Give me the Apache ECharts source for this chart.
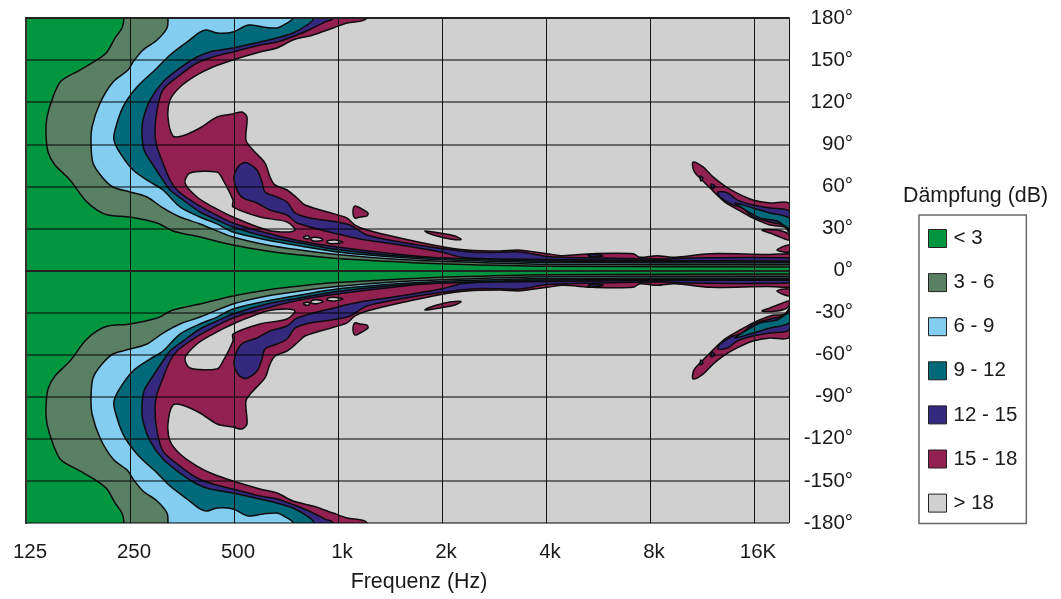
<!DOCTYPE html>
<html><head><meta charset="utf-8">
<style>html,body{margin:0;padding:0;background:#fff}#c{width:1061px;height:599px}</style>
<script src="https://cdn.jsdelivr.net/npm/echarts@6/dist/echarts.min.js"></script>
</head><body><div id="c"></div>
<script>
// x = octaves above 125 Hz, y = angle in degrees (upper half, mirrored for the lower half)
const octaveMax = 7.3365;
const freqLabels = ['125','250','500','1k','2k','4k','8k','16K'];
const bandNames = ['< 3','3 - 6','6 - 9','9 - 12','12 - 15','15 - 18','> 18'];
const bandColors = ['#009640','#5a8063','#83cef0','#006a7a','#35287f','#922050','#d0d0d0'];

const level3 = [[.942,180],[.923,172.9],[.856,165.7],[.779,155.8],[.683,150.1],[.519,142.9],[.337,135.1],[.26,123.7],[.202,109.4],[.192,98],[.212,84.5],[.279,75.2],[.423,64.5],[.567,50.3],[.683,43.1],[.788,39.6],[1,38.1],[1.26,33.9],[1.413,28.2],[1.673,23.9],[1.99,18.2],[2.317,13.9],[2.635,11],[2.99,8.6],[3.596,6.1],[3.99,4.8],[4.99,3],[7.3365,2.5]];
const level6 = [[1.365,180],[1.356,172.9],[1.26,164.3],[1.125,157.2],[1.029,148.6],[.981,142.9],[.837,134.4],[.712,119.4],[.635,102.3],[.625,90.9],[.644,76.6],[.731,66.7],[.837,59.5],[1,56],[1.163,52.4],[1.317,44.6],[1.481,38.1],[1.673,33.2],[1.99,23.9],[2.317,18.2],[2.635,14.6],[2.99,11.4],[3.596,7.8],[3.99,6.6],[4.99,4.4],[7.3365,4.1]];
const level9 = [[2.567,180],[2.51,176.4],[2.413,172.9],[2.279,173.6],[2.135,175],[1.99,170],[1.837,169.3],[1.74,171.5],[1.673,170],[1.548,162.9],[1.385,153.6],[1.26,144.4],[1.067,130.8],[.933,116.6],[.856,100.2],[.846,93],[.904,83.8],[1.029,71.6],[1.192,63.1],[1.317,57.4],[1.481,45.3],[1.673,38.1],[1.837,33.2],[1.99,27.4],[2.317,21.7],[2.635,17.5],[2.99,13.2],[3.596,9.3],[3.99,7.8],[4.99,5.7],[7.3365,5.3]];
const level12 = [[2.769,180],[2.702,175],[2.567,169.3],[2.413,165.7],[2.25,162.9],[1.99,158.6],[1.769,155.8],[1.644,152.2],[1.481,144.4],[1.317,134.4],[1.192,121.5],[1.125,107.3],[1.115,98],[1.135,85.9],[1.221,75.2],[1.317,64.5],[1.385,57.4],[1.51,50.3],[1.673,41.7],[1.837,36],[1.99,31],[2.317,23.9],[2.635,19.6],[2.99,15],[3.596,10.3],[3.99,8.9],[4.99,6.8],[7.3365,6.1]];
const level15 = [[2.952,180],[2.875,177.2],[2.76,172.9],[2.606,167.9],[2.413,162.9],[2.25,160.8],[1.99,155.8],[1.798,152.2],[1.644,147.9],[1.481,139.4],[1.317,128.7],[1.26,114.4],[1.24,98],[1.26,88],[1.317,76.6],[1.385,64.5],[1.452,57.4],[1.577,50.3],[1.74,43.1],[1.99,33.9],[2.317,26.7],[2.635,21],[2.99,16.8],[3.596,11.4],[3.99,9],[4.99,7.8],[5.904,7.5],[7.3365,7.5]];
const level18 = [[3.279,180],[3.087,176.4],[2.952,172.9],[2.76,167.9],[2.567,164.3],[2.413,158.6],[2.25,155.8],[1.99,150.1],[1.798,145.1],[1.644,139.4],[1.481,130.8],[1.385,121.5],[1.365,109.4],[1.413,95.9],[1.5,95.9],[1.673,101.6],[1.837,109.4],[1.99,111.6],[2.077,113],[2.125,109.4],[2.115,93],[2.183,85.9],[2.298,76.6],[2.346,66.7],[2.394,61],[2.51,57.4],[2.606,51.7],[2.683,46.7],[3,39.6],[3.087,37.4],[3.163,32.4],[3.279,28.9],[3.596,23.2],[3.99,17.1],[4.24,14.6],[4.558,13.9],[4.75,14.5],[5.01,12],[5.163,10.6],[5.452,12],[5.837,12],[5.904,9.4],[6.067,10.6],[6.24,9.4],[6.577,12],[7.125,11.4],[7.3365,12]];

const islands15 = [
  [[2.135,76.6],[2.221,71.6],[2.269,63.1],[2.298,56],[2.413,52.4],[2.51,48.8],[2.587,41],[2.731,37.4],[2.99,34.6],[3.115,32.4],[3.279,25.3],[3.596,20.3],[3.99,15.7],[4.365,12.8],[4.75,13.2],[5.01,10],[5.519,8.9],[6.096,8.2],[6.385,8.9],[7.3365,8.9],[7.3365,6.8],[4.558,8.2],[4.202,9.3],[3.99,13.2],[3.596,18.2],[3.212,22.5],[3,26],[2.606,33.9],[2.51,39.6],[2.346,43.1],[2.221,48.1],[2.087,51.7],[2.029,57.4],[2,66.7],[2.038,73.8],[2.087,76.6]],
  [[6.654,56],[6.75,55.2],[6.837,50.3],[6.99,46.7],[7.154,44.6],[7.3365,42.4],[7.3365,28.9],[7.279,32.4],[7.154,34.6],[6.99,38.1],[6.885,44.6],[6.798,46.7],[6.673,52.4]],
  [[5.404,11.2],[5.519,11.2],[5.548,10.3],[5.423,10]],
  [[6.481,67.4],[6.51,66],[6.49,63.8]],
  [[6.587,61.7],[6.625,60.2],[6.596,58.1]]
];
const islands18 = [
  [[3.163,46],[3.212,44.6],[3.288,41],[3.279,38.9],[3.212,38.1],[3.163,37.4],[3.144,41.7]],
  [[3.837,28.2],[3.981,26.7],[4.125,24.6],[4.183,22.1],[4.077,22.5],[3.952,24.6],[3.865,26.7]],
  [[6.413,77.3],[6.51,73.8],[6.606,66.7],[6.721,60.2],[6.837,55.2],[6.99,50.3],[7.154,48.1],[7.3365,47.8],[7.3365,27.4],[7.298,31],[7.154,32.4],[6.99,37.4],[6.885,41.7],[6.721,48.8],[6.577,58.8],[6.5,64.5],[6.423,70.9]],
  [[7.077,28.9],[7.221,28.9],[7.298,27.4],[7.3365,25.3],[7.3365,21.7],[7.25,23.9],[7.154,26.7]],
  [[7.221,14.6],[7.3365,18.2],[7.3365,13.2]]
];
const islands12 = [
  [[6.817,48.1],[6.99,44.6],[7.154,41],[7.3365,37.4],[7.3365,30.3],[7.221,35.3],[7.058,37.4],[6.885,44.6]]
];
const holes18 = [
  [[1.577,69.5],[1.837,70.2],[1.885,65.9],[1.99,50.3],[1.99,45.3],[2.25,38.1],[2.51,34.6],[2.587,28.9],[2.51,27.4],[2.317,28.9],[1.99,38.1],[1.798,45.3],[1.644,52.4],[1.529,62.4]],
  [[2.673,24.2],[2.721,24.6],[2.721,22.8],[2.673,23.2]],
  [[2.74,23.2],[2.808,23.5],[2.856,22.1],[2.808,21],[2.75,21.4]],
  [[2.894,21],[2.971,21.7],[3.048,20.3],[2.971,19.2],[2.904,19.6]]
];

const flip = p => [p[0], -p[1]];
// each level closes round the left of the plot, just outside the clipped area
const band = upper => {
  const first = upper[0], last = upper[upper.length-1];
  const half = [[first[0],210]].concat(upper, [[last[0]+0.5,last[1]]]);
  return half.concat(half.slice().reverse().map(flip), [[-1,-210],[-1,210]]);
};
const both = list => list.concat(list.map(r => r.map(flip)));

function poly(name, colorIdx, z, rings) {
  return {
    type:'custom', name, z, silent:true, coordinateSystem:'cartesian2d',
    xAxisIndex:0, yAxisIndex:0, clip:true,
    itemStyle:{color:bandColors[colorIdx]},
    data: rings.map((r,i)=>[i,0]),
    renderItem(params, api){
      const ring = rings[api.value(0)];
      return {type:'polygon', shape:{points:ring.map(p=>api.coord(p)), smooth:0.3},
        style:{fill:bandColors[colorIdx], stroke:'#0c0c0c', lineWidth:1.5, lineJoin:'round'}};
    }
  };
}

const labelFont = {fontFamily:'"Liberation Sans", Arial, sans-serif', fontSize:20.5, color:'#1a1a1a'};
const chart = echarts.init(document.getElementById('c'), null, {renderer:'canvas'});
chart.setOption({
  animation:false,
  backgroundColor:'#fff',
  grid:{left:26, right:272, top:18, bottom:76, show:false},
  title:{text:'Dämpfung (dB)', left:903, top:186, padding:0,
    textStyle:{...labelFont, fontSize:21.4, fontWeight:'normal'}},
  legend:{
    left:919, top:215, orient:'vertical', icon:'rect', selectedMode:false,
    data:bandNames, itemWidth:18, itemHeight:18, itemGap:23.1,
    padding:[13,9,10,9], borderColor:'#6a6a6a', borderWidth:1.5,
    itemStyle:{borderColor:'#222', borderWidth:1},
    textStyle:{...labelFont, padding:[0,0,0,2]}
  },
  xAxis:[
    {type:'value', min:0, max:octaveMax, interval:1, position:'bottom', z:10,
     name:'Frequenz (Hz)', nameLocation:'middle', nameGap:49,
     nameTextStyle:{...labelFont, fontSize:21.4, padding:[0,0,0,23]},
     axisLine:{show:true, lineStyle:{color:'#222', width:2}}, axisTick:{show:false},
     splitLine:{show:true, lineStyle:{color:'#111', width:1}},
     axisLabel:{...labelFont, margin:19, padding:[0,0,0,8], showMaxLabel:false,
       formatter:v=>freqLabels[Math.round(v)] ?? ''}},
    {type:'value', min:0, max:octaveMax, position:'top', z:10,
     axisLine:{show:true, onZero:false, lineStyle:{color:'#222', width:2}},
     axisTick:{show:false}, splitLine:{show:false}, axisLabel:{show:false}}
  ],
  yAxis:[
    {type:'value', min:-180, max:180, interval:30, position:'right', z:10,
     axisLine:{show:true, lineStyle:{color:'#222', width:2}}, axisTick:{show:false},
     splitLine:{show:true, lineStyle:{color:'rgba(0,0,0,0.5)', width:2}},
     axisLabel:{...labelFont, margin:64, align:'right', padding:[0,0,4,0],
       showMinLabel:true, showMaxLabel:true, formatter:v=>v+'°'}},
    {type:'value', min:-180, max:180, position:'left', z:10,
     axisLine:{show:true, onZero:false, lineStyle:{color:'#333', width:2}},
     axisTick:{show:false}, splitLine:{show:false}, axisLabel:{show:false}}
  ],
  series:[
    poly('> 18',6,1,[[[-1,210],[octaveMax+1,210],[octaveMax+1,-210],[-1,-210]]]),
    poly('15 - 18',5,2,[band(level18)].concat(both(islands18))),
    poly('> 18',6,3,both(holes18)),
    poly('12 - 15',4,4,[band(level15)].concat(both(islands15))),
    poly('9 - 12',3,5,[band(level12)].concat(both(islands12))),
    poly('6 - 9',2,6,[band(level9)]),
    poly('3 - 6',1,7,[band(level6)]),
    poly('< 3',0,8,[band(level3)])
  ]
});
</script></body></html>
